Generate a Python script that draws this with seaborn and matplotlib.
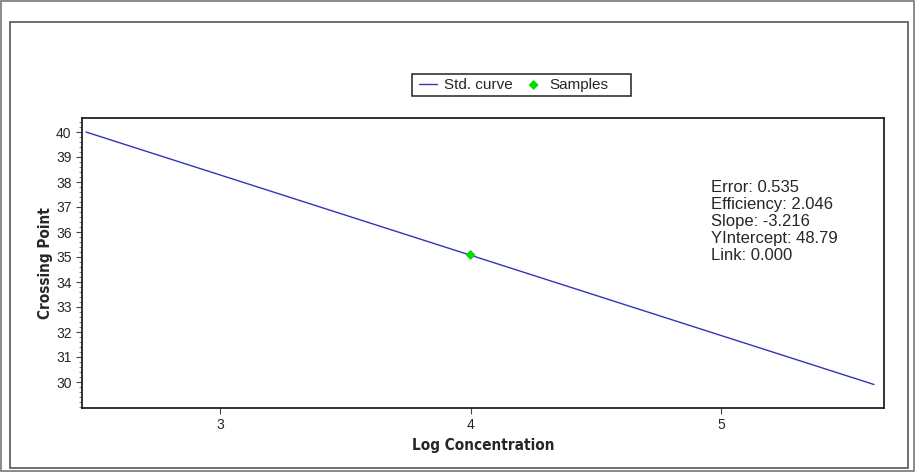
import numpy as np
import pandas as pd
import seaborn as sns
import matplotlib.pyplot as plt
from matplotlib.patches import Rectangle
from matplotlib.ticker import MultipleLocator

# standard curve end points and the one sample
curve_log_conc = [2.465, 5.61]
curve_cp = [40.0, 29.9]
sample_log_conc = [4.0]
sample_cp = [35.08]
stats_lines = ["Error: 0.535", "Efficiency: 2.046", "Slope: -3.216",
               "YIntercept: 48.79", "Link: 0.000"]

sns.set_style("white")
plt.rcParams['font.family'] = ['Liberation Sans', 'DejaVu Sans']

fig = plt.figure(figsize=(9.16, 4.72), dpi=100)

# outer and inner frames around the chart, plus the legend box
fig.patches.append(Rectangle((0.001, 0.002), 0.997, 0.995, transform=fig.transFigure,
                             fill=False, edgecolor='#777777', lw=1.2))
fig.patches.append(Rectangle((10 / 916, 1 - 468 / 472), 898 / 916, 446 / 472,
                             transform=fig.transFigure, fill=False,
                             edgecolor='#555555', lw=1.2))
fig.patches.append(Rectangle((412 / 916, 1 - 96 / 472), 219 / 916, 22 / 472,
                             transform=fig.transFigure, fill=False,
                             edgecolor='#222222', lw=1.1))

ax = fig.add_axes([82 / 916, 1 - 408 / 472, 802 / 916, 290 / 472])

curve = pd.DataFrame({"x": curve_log_conc, "y": curve_cp})
samples = pd.DataFrame({"x": sample_log_conc, "y": sample_cp})

sns.lineplot(data=curve, x="x", y="y", ax=ax, color='#3333bb', lw=1.0,
             label="Std. curve")
sns.scatterplot(data=samples, x="x", y="y", ax=ax, color='#00dd00', s=26,
                marker='D', edgecolor='none', label="Samples", zorder=3)

ax.set_xlim(2.449, 5.65)
ax.set_ylim(28.96, 40.56)
ax.set_xticks([3, 4, 5])
ax.yaxis.set_major_locator(MultipleLocator(1))
ax.yaxis.set_minor_locator(MultipleLocator(0.2))
ax.set_yticks(range(30, 41))
ax.tick_params(axis='both', which='major', direction='out', length=4,
               width=0.8, labelsize=10, color='#444444', left=True, bottom=True)
ax.tick_params(axis='y', which='minor', direction='out', length=2,
               width=0.6, color='#666666', left=True)
for sp in ax.spines.values():
    sp.set_color('#222222')
    sp.set_linewidth(1.3)

narrow = dict(fontsize=11, fontweight='bold', family='DejaVu Sans',
              fontstretch='condensed')
ax.set_xlabel("Log Concentration", labelpad=4, **narrow)
ax.set_ylabel("Crossing Point", labelpad=2, **narrow)

ax.text(0.784, 0.786, "\n".join(stats_lines), transform=ax.transAxes,
        fontsize=12, va='top', ha='left', linespacing=1.16)

leg = ax.legend(loc='center left', bbox_to_anchor=(416 / 916, 1 - 85 / 472),
                bbox_transform=fig.transFigure, ncol=2, fontsize=11,
                frameon=False, handlelength=1.2,
                handletextpad=0.4, columnspacing=0.8, borderpad=0.2,
                borderaxespad=0)

fig.savefig("out.png", dpi=100)
